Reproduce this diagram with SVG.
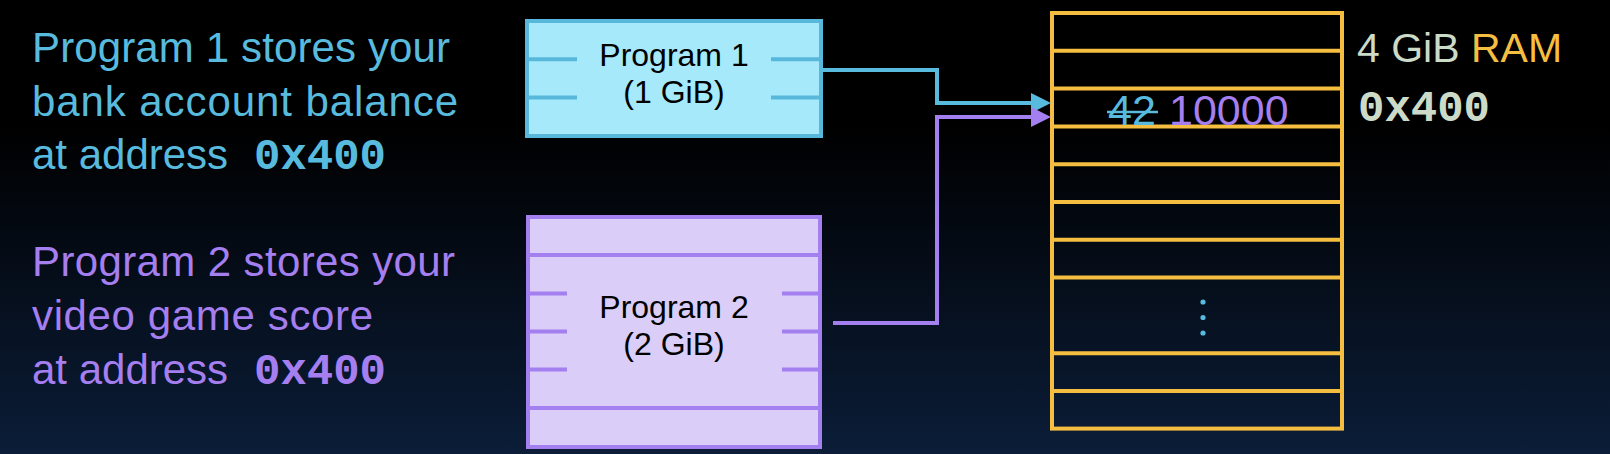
<svg xmlns="http://www.w3.org/2000/svg" width="1610" height="454" viewBox="0 0 1610 454">
  <defs>
    <linearGradient id="bg" x1="0" y1="0" x2="0" y2="1">
      <stop offset="0" stop-color="#000000"/>
      <stop offset="0.28" stop-color="#000000"/>
      <stop offset="1" stop-color="#0b1d38"/>
    </linearGradient>
    <marker id="headBlue" viewBox="0 0 20 20" refX="10" refY="10" markerWidth="20" markerHeight="20" markerUnits="userSpaceOnUse" orient="auto">
      <path d="M0,0 L20,10 L0,20 Z" fill="#58bbde"/>
    </marker>
    <marker id="headPurple" viewBox="0 0 20 20" refX="10" refY="10" markerWidth="20" markerHeight="20" markerUnits="userSpaceOnUse" orient="auto">
      <path d="M0,0 L20,10 L0,20 Z" fill="#a37ff0"/>
    </marker>
  </defs>
  <style>
    .sans { font-family: "Liberation Sans", Arial, sans-serif; }
    .mono { font-family: "Liberation Mono", "Courier New", monospace; font-weight: bold; }
    .blue { fill: #58bbde; }
    .purple { fill: #a57ff0; }
    .pale { fill: #cbdbc8; }
    .gold { fill: #f5be41; }
    .cap { font-size: 42px; }
    .lbl { font-size: 32px; fill: #000000; text-anchor: middle; }
    .p1 { fill: #a6e9fb; stroke: #58b8dc; stroke-width: 4; }
    .p1l { stroke: #58b8dc; stroke-width: 4; fill: none; }
    .p2 { fill: #dacef8; stroke: #a37ff0; stroke-width: 4; }
    .p2l { stroke: #a37ff0; stroke-width: 4; fill: none; }
    .ram { stroke: #f5be41; stroke-width: 4; fill: none; }
    .conn { fill: none; stroke-width: 4; }
  </style>

  <rect x="0" y="0" width="1610" height="454" fill="url(#bg)"/>

  <g id="caption-program1" class="sans cap blue">
    <text x="32" y="62" textLength="418" lengthAdjust="spacing">Program 1 stores your</text>
    <text x="32" y="116" textLength="426" lengthAdjust="spacing">bank account balance</text>
    <text x="32" y="169">at address <tspan class="mono" x="254" font-size="44">0x400</tspan></text>
  </g>

  <g id="caption-program2" class="sans cap purple">
    <text x="32" y="276" textLength="423" lengthAdjust="spacing">Program 2 stores your</text>
    <text x="32" y="330" textLength="341" lengthAdjust="spacing">video game score</text>
    <text x="32" y="384">at address <tspan class="mono" x="254" font-size="44">0x400</tspan></text>
  </g>

  <g id="program1">
    <rect class="p1" x="527" y="21" width="294" height="115"/>
    <path class="p1l" d="M527,59.3 H577 M771,59.3 H821 M527,97.6 H577 M771,97.6 H821"/>
    <text class="sans lbl" x="674" y="66">Program 1</text>
    <text class="sans lbl" x="674" y="103">(1 GiB)</text>
  </g>

  <g id="program2">
    <rect class="p2" x="528" y="217" width="292" height="230"/>
    <path class="p2l" d="M528,255 H820 M528,408 H820 M528,293.5 H567 M782,293.5 H820 M528,331.5 H567 M782,331.5 H820 M528,369.5 H567 M782,369.5 H820"/>
    <text class="sans lbl" x="674" y="318">Program 2</text>
    <text class="sans lbl" x="674" y="355">(2 GiB)</text>
  </g>

  <g id="ram">
    <rect class="ram" x="1052" y="13" width="290" height="415.6"/>
    <path class="ram" d="M1052,50.8 H1342 M1052,88.6 H1342 M1052,126.4 H1342 M1052,164.2 H1342 M1052,202 H1342 M1052,239.8 H1342 M1052,277.6 H1342 M1052,353.2 H1342 M1052,391 H1342"/>
    <text class="sans blue" x="1108" y="125" font-size="43">42</text>
    <line x1="1107" y1="112" x2="1158" y2="112" stroke="#58bbde" stroke-width="2.5"/>
    <text class="sans purple" x="1169" y="125" font-size="43">10000</text>
    <circle class="blue" cx="1203" cy="302" r="2.6"/>
    <circle class="blue" cx="1203" cy="317.5" r="2.6"/>
    <circle class="blue" cx="1203" cy="333" r="2.6"/>
    <text class="sans" x="1357" y="62" font-size="41"><tspan class="pale">4 GiB </tspan><tspan class="gold">RAM</tspan></text>
    <text class="mono pale" x="1358" y="121" font-size="44">0x400</text>
  </g>

  <g id="connectors">
    <path class="conn" stroke="#58bbde" d="M821,70 H937 V103 H1041" marker-end="url(#headBlue)"/>
    <path class="conn" stroke="#a37ff0" d="M833,323 H937 V117 H1041" marker-end="url(#headPurple)"/>
  </g>
</svg>
